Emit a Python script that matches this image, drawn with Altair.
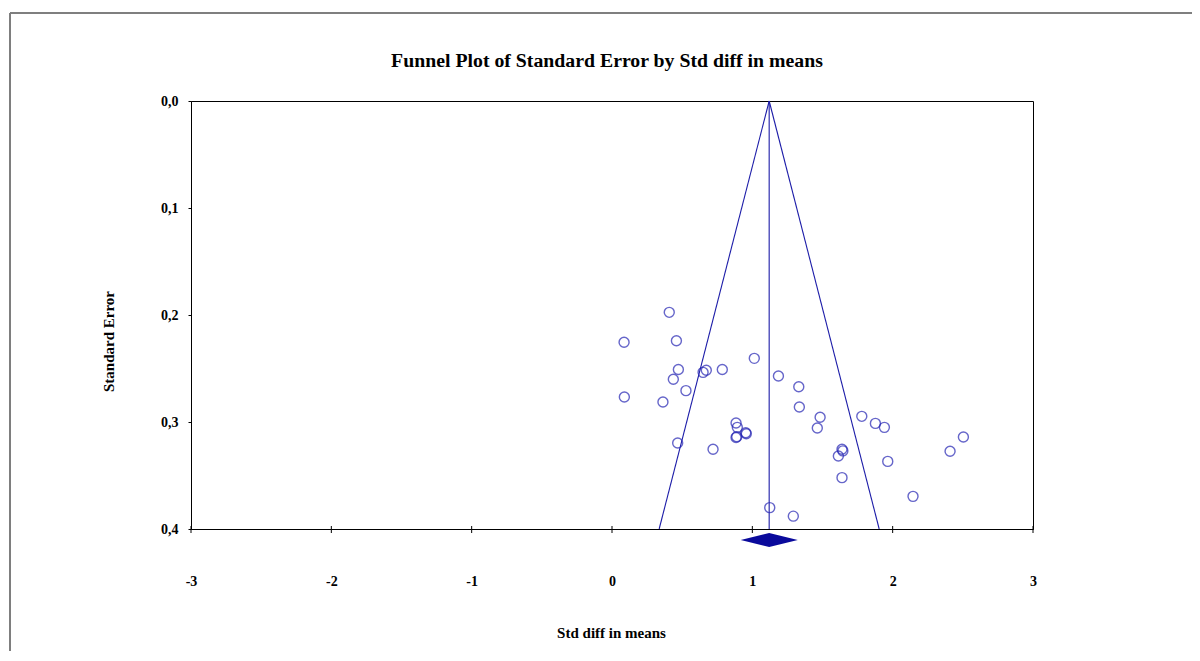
import altair as alt
import pandas as pd

# ---- data ----
std_diff = [0.408, 0.086, 0.459, 1.014, 0.473, 0.649, 0.672, 0.786, 0.437, 1.186,
            1.331, 0.527, 0.088, 0.363, 1.335, 0.884, 0.893, 0.953, 0.957, 0.889,
            0.884, 0.468, 0.720, 1.124, 1.292, 1.483, 1.463, 1.780, 1.877, 1.941,
            1.639, 1.645, 1.613, 1.639, 1.965, 2.145, 2.409, 2.504]
std_err = [0.1975, 0.2255, 0.224, 0.2405, 0.251, 0.2536, 0.2517, 0.251, 0.260, 0.257,
           0.267, 0.2707, 0.2766, 0.2813, 0.286, 0.301, 0.305, 0.310, 0.311, 0.3137,
           0.3145, 0.3196, 0.3255, 0.380, 0.388, 0.2956, 0.3056, 0.2947, 0.3013, 0.305,
           0.3255, 0.327, 0.3318, 0.352, 0.3368, 0.3695, 0.3274, 0.314]

summary_est = 1.12
summary_lo = 0.917
summary_hi = 1.324
se_max = 0.4

x_ticks = [-3, -2, -1, 0, 1, 2, 3]
y_ticks = [0.0, 0.1, 0.2, 0.3, 0.4]

TITLE = "Funnel Plot of Standard Error by Std diff in means"

# ---- styling constants ----
W, H = 842, 428
LINE_COLOR = "#1c1ca8"
POINT_COLOR = "#2626b4"
DIAMOND_COLOR = "#0a0a9c"
FONT = "Liberation Serif"
DIAMOND_Y = 0.4103
DIAMOND_HALF = 0.0066

points = pd.DataFrame({"x": std_diff, "y": std_err})

funnel = pd.DataFrame({
    "x": [summary_est, summary_est - 1.96 * se_max,
          summary_est, summary_est + 1.96 * se_max,
          summary_est, summary_est],
    "y": [0, se_max, 0, se_max, 0, se_max],
    "grp": ["l", "l", "r", "r", "c", "c"],
    "o": [0, 1, 0, 1, 0, 1],
})

diamond = pd.DataFrame({
    "x": [summary_lo, summary_est, summary_hi],
    "y": [DIAMOND_Y, DIAMOND_Y - DIAMOND_HALF, DIAMOND_Y],
    "y2": [DIAMOND_Y, DIAMOND_Y + DIAMOND_HALF, DIAMOND_Y],
})

ticks = pd.DataFrame({"x": x_ticks})
title_df = pd.DataFrame({"t": [TITLE]})

xscale = alt.Scale(domain=[-3, 3], nice=False, zero=False)
yscale = alt.Scale(domain=[0, 0.4], nice=False, reverse=True, zero=False)

xaxis = alt.Axis(
    values=x_ticks, labelExpr="'' + datum.value", ticks=False, grid=False,
    labelFlush=False, labelOverlap=False,
    labelPadding=45, labelFont=FONT, labelFontWeight="bold", labelFontSize=14,
    labelColor="black", domainColor="black",
    title="Std diff in means", titleFont=FONT, titleFontWeight="bold", titleFontSize=15,
    titleColor="black", titleX=W / 2 - 1, titleY=103, titleBaseline="middle",
)
yaxis = alt.Axis(
    values=y_ticks, labelExpr="replace(format(datum.value, '.1f'), '.', ',')",
    labelFlush=False, labelOverlap=False,
    tickSize=3, tickColor="black", grid=False, labelPadding=10,
    labelFont=FONT, labelFontWeight="bold", labelFontSize=14, labelColor="black",
    domainColor="black",
    title="Standard Error", titleFont=FONT, titleFontWeight="bold", titleFontSize=15,
    titleColor="black", titleX=-83, titleY=240, titleAngle=-90,
    titleAlign="center", titleBaseline="middle",
)

base_pts = alt.Chart(points).mark_point(
    shape="circle", filled=False, size=100, strokeWidth=1.4, color=POINT_COLOR
).encode(
    x=alt.X("x:Q", scale=xscale, axis=xaxis),
    y=alt.Y("y:Q", scale=yscale, axis=yaxis),
)

lines = alt.Chart(funnel).mark_line(color=LINE_COLOR, strokeWidth=1.1).encode(
    x=alt.X("x:Q", scale=xscale),
    y=alt.Y("y:Q", scale=yscale),
    detail="grp:N",
    order="o:Q",
)

dia = alt.Chart(diamond).mark_area(color=DIAMOND_COLOR, opacity=1).encode(
    x=alt.X("x:Q", scale=xscale),
    y=alt.Y("y:Q", scale=yscale),
    y2="y2:Q",
)

tick_rules = alt.Chart(ticks).mark_rule(color="black", strokeWidth=1).encode(
    x=alt.X("x:Q", scale=xscale),
    y=alt.value(H - 3),
    y2=alt.value(H + 4),
)

border_top = alt.Chart(ticks).mark_rule(color="#7f7f7f", strokeWidth=1.2).encode(
    x=alt.value(-181), x2=alt.value(1100), y=alt.value(-88)
)
border_left = alt.Chart(ticks).mark_rule(color="#7f7f7f", strokeWidth=1.2).encode(
    x=alt.value(-181), y=alt.value(-88), y2=alt.value(600)
)

title_text = alt.Chart(title_df).mark_text(
    font=FONT, fontSize=19.8, fontWeight="bold", color="black",
    align="center", baseline="middle",
).encode(
    text="t:N", x=alt.value(416), y=alt.value(-40)
)

chart = alt.layer(
    border_top, border_left, lines, tick_rules, dia, base_pts, title_text
).properties(
    width=W, height=H,
    autosize=alt.AutoSizeParams(type="none"),
    padding={"left": 183, "top": 93, "right": 159, "bottom": 122},
).configure(
    background="white"
).configure_view(
    stroke="black", strokeWidth=1
)

chart.save("out.html", embed_options={"renderer": "svg", "actions": False})
